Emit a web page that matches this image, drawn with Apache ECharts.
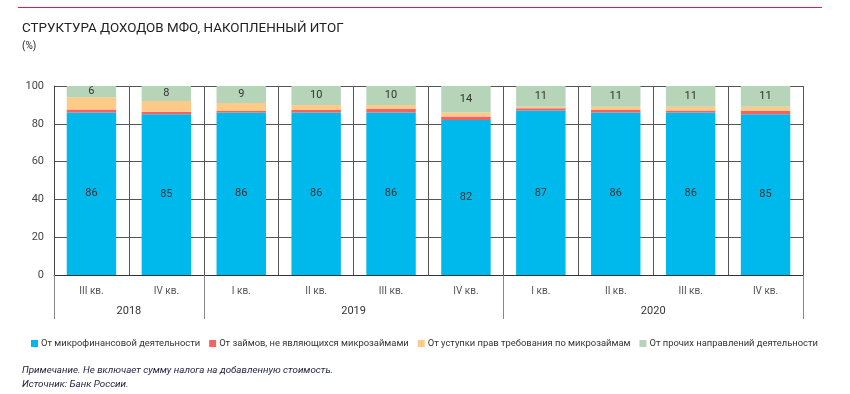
<!DOCTYPE html>
<html><head><meta charset="utf-8">
<script src="https://cdn.jsdelivr.net/npm/echarts@6/dist/echarts.min.js"></script>
<style>html,body{margin:0;padding:0;background:#fff}#c{width:850px;height:394px}</style>
</head><body><div id="c"></div>
<script>
const quarters = ['III кв.','IV кв.','I кв.','II кв.','III кв.','IV кв.','I кв.','II кв.','III кв.','IV кв.'];
const years = ['2018','2019','2020'];
const yearCounts = [2,4,4];
const micro = [86,85,86,86,86,82,87,86,86,85];
const nonMicro = [1.6,1.4,0.8,1.5,2.0,1.8,1.2,1.3,1.0,1.8];
const cession = [6.4,5.6,4.2,2.5,2.0,2.2,0.8,1.7,2.0,2.2];
const other = [6,8,9,10,10,14,11,11,11,11];
const yTicks = [0,20,40,60,80,100];
const seriesNames = ['От микрофинансовой деятельности','От займов, не являющихся микрозаймами','От уступки прав требования по микрозаймам','От прочих направлений деятельности'];

const yearBounds = [0]; const yearCenters = [];
yearCounts.forEach((c,i)=>{ const s = yearBounds[yearBounds.length-1]; yearCenters.push(s + c/2); yearBounds.push(s + c); });

const FONT = 'Roboto';
const chart = echarts.init(document.getElementById('c'));
const barW = '66%';
function mk(name, data, color, showLabel){
  return {name, type:'bar', stack:'t', data, barWidth:barW, itemStyle:{color},
    label:{show:showLabel, position:'inside', color:'#333', fontSize:11, fontFamily:FONT},
    emphasis:{disabled:true}};
}
chart.setOption({
  animation:false,
  textStyle:{fontFamily:FONT},
  title:[
    {text:'СТРУКТУРА ДОХОДОВ МФО, НАКОПЛЕННЫЙ ИТОГ', left:17, top:17, textStyle:{fontSize:13.4, fontWeight:'normal', color:'#222', fontFamily:FONT}},
    {text:'(%)', left:17, top:36, textStyle:{fontSize:10, fontWeight:'normal', color:'#222', fontFamily:FONT}},
    {text:'Примечание. Не включает сумму налога на добавленную стоимость.', left:17, top:361, textStyle:{fontSize:9.8, fontStyle:'italic', fontWeight:'normal', color:'#1e1e3c', fontFamily:FONT}},
    {text:'Источник: Банк России.', left:17, top:375, textStyle:{fontSize:9.8, fontStyle:'italic', fontWeight:'normal', color:'#1e1e3c', fontFamily:FONT}}
  ],
  graphic:[{type:'line', shape:{x1:18,y1:7.5,x2:822,y2:7.5}, style:{stroke:'#e31b3c', lineWidth:1}}],
  legend:{left:26, top:334, itemWidth:7, itemHeight:7, itemGap:9, icon:'rect',
    textStyle:{fontSize:9.4, color:'#333', fontFamily:FONT, padding:[0,0,0,-2]}, data:seriesNames, selectedMode:false},
  grid:{left:54, right:47, top:86, bottom:119},
  xAxis:[
    {type:'category', data:quarters, boundaryGap:true,
     axisLine:{show:true, lineStyle:{color:'#333', width:1}},
     axisTick:{show:false},
     axisLabel:{color:'#555', fontSize:10, margin:11, fontFamily:FONT},
     splitLine:{show:true, lineStyle:{color:'#555', width:1}}},
    {type:'value', min:0, max:quarters.length, position:'bottom',
     axisLine:{show:false}, splitLine:{show:false},
     axisTick:{show:true, customValues:yearBounds, length:44, lineStyle:{color:'#888', width:1}},
     axisLabel:{show:true, customValues:yearCenters, margin:31, color:'#333', fontSize:11, fontFamily:FONT,
       formatter:v=>{const i = yearCenters.indexOf(v); return i>=0?years[i]:'';}}}
  ],
  yAxis:{type:'value', min:0, max:100, interval:20,
    axisLine:{show:true, lineStyle:{color:'#444'}}, axisTick:{show:false},
    axisLabel:{color:'#444', fontSize:11, margin:10, fontFamily:FONT},
    splitLine:{show:true, lineStyle:{color:'#555', width:1}}},
  series:[
    mk(seriesNames[0], micro, '#00b9ec', true),
    mk(seriesNames[1], nonMicro, '#f26363', false),
    mk(seriesNames[2], cession, '#fdca87', false),
    mk(seriesNames[3], other, '#b6d4b8', true)
  ]
});
</script></body></html>
